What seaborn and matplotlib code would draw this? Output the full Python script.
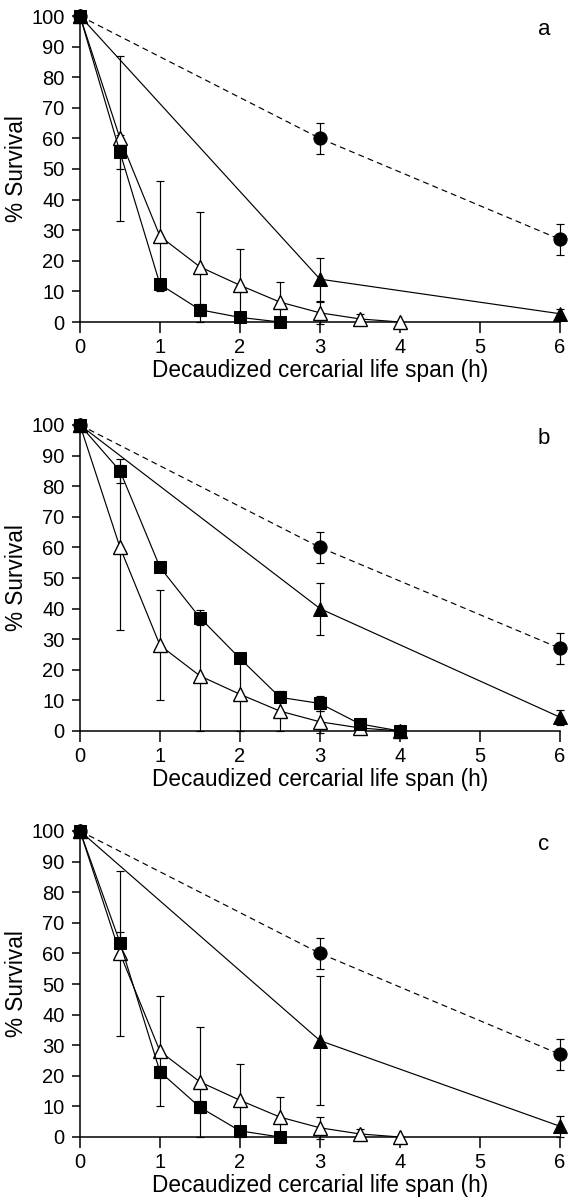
import matplotlib
matplotlib.use("Agg")
import matplotlib.pyplot as plt
import seaborn as sns
import numpy as np

# ---- data ----
panel_letters = ["a", "b", "c"]
x_ticks = [0, 1, 2, 3, 4, 5, 6]
y_ticks = [0, 10, 20, 30, 40, 50, 60, 70, 80, 90, 100]

# shared series (same in every panel)
circle_t = [0, 3, 6]
circle_v = [100, 60, 27]
circle_e = [0, 5, 5]

open_t = [0, 0.5, 1, 1.5, 2, 2.5, 3, 3.5, 4]
open_v = [100, 60, 28, 18, 12, 6.5, 3, 1, 0]
open_e = [0, 27, 18, 18, 12, 6.5, 3.5, 1.5, 0]

# panel-specific series
filled_t = [0, 3, 6]
filled_a = [100, 14, 2.7]
filled_a_e = [0, 7, 1.5]
filled_b = [100, 40, 4.5]
filled_b_e = [0, 8.5, 2.5]
filled_c = [100, 31.5, 3.5]
filled_c_e = [0, 21, 3.5]

square_a_t = [0, 0.5, 1, 1.5, 2, 2.5]
square_a = [100, 55.5, 12.3, 4, 1.5, 0]
square_a_e = [0, 5.5, 1.5, 2, 1, 0]

square_b_t = [0, 0.5, 1, 1.5, 2, 2.5, 3, 3.5, 4]
square_b = [100, 85, 53.5, 37, 23.7, 11, 9, 2.3, 0]
square_b_e = [0, 4, 1.5, 2.5, 1.5, 1.5, 2.5, 1, 0]

square_c_t = [0, 0.5, 1, 1.5, 2, 2.5]
square_c = [100, 63.5, 21.3, 9.7, 2, 0]
square_c_e = [0, 3.5, 2, 2, 0.5, 0]

xlabel = "Decaudized cercarial life span (h)"
ylabel = "% Survival"

# ---- style ----
sns.set_theme(style="ticks")
plt.rcParams["font.family"] = ["Liberation Sans", "DejaVu Sans"]

fig = plt.figure(figsize=(5.69, 12.0), dpi=100)

left = 80 / 569
width = 480 / 569
h = 306 / 1200
bottoms = [1 - 322 / 1200, 1 - 731 / 1200, 1 - 1137 / 1200]

panels = [
    (filled_a, filled_a_e, square_a_t, square_a, square_a_e),
    (filled_b, filled_b_e, square_b_t, square_b, square_b_e),
    (filled_c, filled_c_e, square_c_t, square_c, square_c_e),
]

lw = 0.85
ms = 9.5
ebkw = dict(fmt="none", ecolor="black", elinewidth=lw, capsize=3.2, capthick=lw, clip_on=False)

for i, (fv, fe, st, sv, se) in enumerate(panels):
    ax = fig.add_axes([left, bottoms[i], width, h])

    # error bars
    ax.errorbar(circle_t, circle_v, yerr=circle_e, zorder=2, **ebkw)
    ax.errorbar(filled_t, fv, yerr=fe, zorder=2, **ebkw)
    ax.errorbar(open_t, open_v, yerr=open_e, zorder=2, **ebkw)
    ax.errorbar(st, sv, yerr=se, zorder=2, **ebkw)

    sns.lineplot(x=circle_t, y=circle_v, ax=ax, color="black", linewidth=lw,
                 linestyle=(0, (5, 3.5)), marker="o", markersize=ms,
                 markeredgecolor="black", markerfacecolor="black",
                 estimator=None, clip_on=False, zorder=3)
    sns.lineplot(x=filled_t, y=fv, ax=ax, color="black", linewidth=lw,
                 marker="^", markersize=ms, markeredgecolor="black",
                 markerfacecolor="black", estimator=None, clip_on=False, zorder=3)
    sns.lineplot(x=open_t, y=open_v, ax=ax, color="black", linewidth=lw,
                 marker="^", markersize=ms, markeredgecolor="black",
                 markerfacecolor="white", markeredgewidth=1.0,
                 estimator=None, clip_on=False, zorder=4)
    sns.lineplot(x=st, y=sv, ax=ax, color="black", linewidth=lw,
                 marker="s", markersize=ms - 0.3, markeredgecolor="black",
                 markerfacecolor="black", estimator=None, clip_on=False, zorder=5)

    ax.set_xlim(0, 6)
    ax.set_ylim(0, 100)
    ax.set_xticks(x_ticks)
    ax.set_yticks(y_ticks)
    ax.set_xticklabels([str(t) for t in x_ticks])
    ax.set_yticklabels([str(t) for t in y_ticks])
    sns.despine(ax=ax)
    for sp in ["left", "bottom"]:
        ax.spines[sp].set_linewidth(1.1)
        ax.spines[sp].set_color("black")
    ax.tick_params(axis="x", direction="out", length=8, width=1.1, labelsize=14.5,
                   colors="black", pad=3.5)
    ax.tick_params(axis="y", direction="out", length=6, width=1.1, labelsize=14.5,
                   colors="black", pad=5)
    ax.set_xlabel(xlabel, fontsize=16.3, color="black", labelpad=1.5)
    ax.set_ylabel(ylabel, fontsize=16.3, color="black", labelpad=2.5)
    ax.set_facecolor("white")
    ax.grid(False)
    ax.text(5.8, 95.7, panel_letters[i], fontsize=16, color="black",
            ha="center", va="center")

fig.patch.set_facecolor("white")
fig.savefig("out.png", dpi=100, facecolor="white")
